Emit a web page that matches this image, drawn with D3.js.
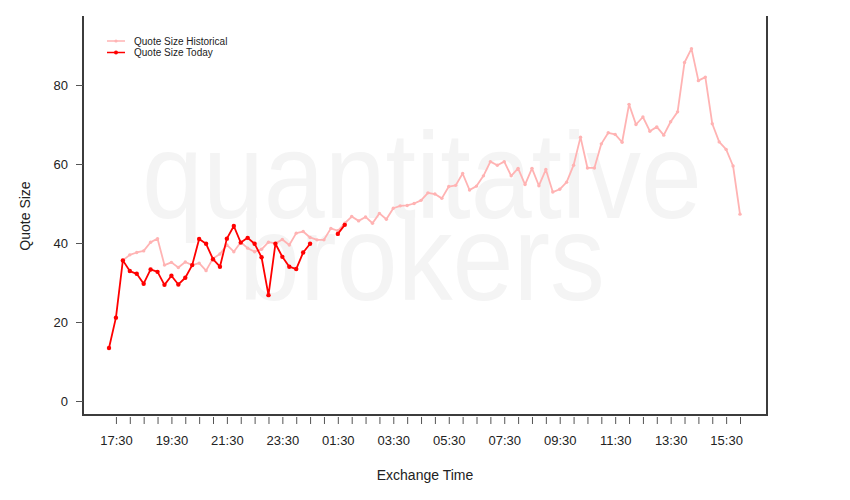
<!DOCTYPE html>
<html>
<head>
<meta charset="utf-8">
<script src="https://cdn.jsdelivr.net/npm/d3@7"></script>
<style>
  body { margin: 0; background: #fff; }
  svg { display: block; font-family: "Liberation Sans", Arial, Helvetica, sans-serif; }
</style>
</head>
<body>
<svg id="chart" width="850" height="500"></svg>
<script>
// ---- data ----
const startTime = "2013-01-01T17:15:00Z";   // first observation, 15-minute buckets
const stepMinutes = 15;

const historical = [
  null, null, 35.6, 37.0, 37.6, 38.0, 40.2, 41.1, 34.4, 35.1,
  33.8, 35.2, 34.4, 34.9, 33.0, 36.1, 37.2, 39.5, 37.8, 40.2,
  38.7, 37.8, 38.4, 40.2, 39.9, 40.9, 39.5, 42.5, 42.9, 41.4,
  40.8, 40.8, 43.7, 43.1, 45.0, 46.7, 45.6, 46.6, 45.0, 47.5,
  46.0, 48.8, 49.4, 49.5, 50.0, 50.8, 52.7, 52.4, 51.3, 54.3,
  54.6, 57.6, 53.4, 54.4, 57.0, 60.6, 59.7, 60.6, 57.0, 58.9,
  54.8, 58.9, 54.5, 58.6, 52.9, 53.6, 55.4, 59.7, 66.8, 59.0,
  59.0, 65.1, 67.9, 67.5, 65.5, 75.1, 70.0, 71.9, 68.3, 69.4,
  67.3, 70.7, 73.2, 85.7, 89.2, 81.1, 82.0, 70.2, 65.6, 63.7,
  59.5, 47.3
];

const today = [
  13.4, 21.1, 35.6, 32.9, 32.2, 29.7, 33.3, 32.7, 29.4, 31.7,
  29.5, 31.2, 34.4, 41.0, 39.8, 35.9, 34.0, 41.1, 44.3, 40.1,
  41.3, 39.8, 36.4, 26.8, 39.8, 36.5, 34.0, 33.4, 37.6, 39.8,
  null, null, null, 42.3, 44.6
];

const yTicks = [0, 20, 40, 60, 80];
const xTickStart = "2013-01-01T17:30:00Z";
const xTickEnd = "2013-01-02T16:00:00Z";
const seriesNames = ["Quote Size Historical", "Quote Size Today"];
const seriesColors = ["#ffb3b3", "#ff0000"];
const watermarkLines = ["quantitative", "brokers"];

// ---- layout ----
const svg = d3.select("#chart");
const box = { left: 83, right: 767, top: 16, bottom: 415 };

const t0 = new Date(startTime);
const times = historical.map((_, i) => d3.utcMinute.offset(t0, i * stepMinutes));

const x = d3.scaleUtc()
  .domain([times[0], times[times.length - 1]])
  .range([109, 740]);

const y = d3.scaleLinear().domain([0, 80]).range([401, 85]);

// watermark
const wm = svg.append("g").attr("fill", "#f4f4f4");
wm.append("text").attr("x", 142).attr("y", 218)
  .attr("font-size", 122).attr("textLength", 560).attr("lengthAdjust", "spacingAndGlyphs")
  .text(watermarkLines[0]);
wm.append("text").attr("x", 239).attr("y", 300)
  .attr("font-size", 122).attr("textLength", 366).attr("lengthAdjust", "spacingAndGlyphs")
  .text(watermarkLines[1]);

// box (left, bottom, right)
svg.append("path")
  .attr("d", `M${box.left},${box.top}V${box.bottom}H${box.right}V${box.top}`)
  .attr("fill", "none").attr("stroke", "#3c3c3c").attr("stroke-width", 2);

// y axis
const yAxis = svg.append("g")
  .attr("transform", `translate(${box.left},0)`)
  .call(d3.axisLeft(y).tickValues(yTicks).tickSize(7).tickPadding(8).tickFormat(d3.format("d")));
yAxis.select(".domain").remove();
yAxis.selectAll(".tick line").attr("stroke", "#555");
yAxis.selectAll(".tick text").attr("font-size", 13).attr("fill", "#222")
  .attr("font-family", "'Liberation Sans', Arial, sans-serif");

// x axis
const xTicks = d3.utcMinute.every(30).range(new Date(xTickStart), d3.utcMinute.offset(new Date(xTickEnd), 1));
const fmt = d3.utcFormat("%H:%M");
const xAxis = svg.append("g")
  .attr("transform", `translate(0,${box.bottom + 2})`)
  .call(d3.axisBottom(x).tickValues(xTicks).tickSize(7).tickPadding(12)
    .tickFormat((d, i) => (i % 4 === 0 ? fmt(d) : "")));
xAxis.select(".domain").remove();
xAxis.selectAll(".tick line").attr("stroke", "#555");
xAxis.selectAll(".tick text").attr("font-size", 13).attr("fill", "#222")
  .attr("font-family", "'Liberation Sans', Arial, sans-serif");

// axis titles
svg.append("text").attr("x", 425).attr("y", 480).attr("text-anchor", "middle")
  .attr("font-size", 14).attr("fill", "#222").text("Exchange Time");
svg.append("text").attr("transform", "translate(30,216) rotate(-90)").attr("text-anchor", "middle")
  .attr("font-size", 14).attr("fill", "#222").text("Quote Size");

// series
function drawSeries(values, color, r) {
  const pts = values.map((v, i) => ({ t: times[i], v }));
  const line = d3.line().defined(d => d.v != null).x(d => x(d.t)).y(d => y(d.v));
  svg.append("path").datum(pts).attr("d", line)
    .attr("fill", "none").attr("stroke", color).attr("stroke-width", 1.8)
    .attr("stroke-linejoin", "round");
  svg.append("g").selectAll("circle").data(pts.filter(d => d.v != null)).join("circle")
    .attr("cx", d => x(d.t)).attr("cy", d => y(d.v)).attr("r", r).attr("fill", color);
}
drawSeries(historical, seriesColors[0], 1.7);
drawSeries(today, seriesColors[1], 2.2);

// legend
const legend = svg.append("g");
seriesNames.forEach((name, i) => {
  const ly = 41 + i * 11.5;
  legend.append("line").attr("x1", 107).attr("x2", 125).attr("y1", ly).attr("y2", ly)
    .attr("stroke", seriesColors[i]).attr("stroke-width", 1.5);
  legend.append("circle").attr("cx", 116).attr("cy", ly).attr("r", i ? 2 : 1.6).attr("fill", seriesColors[i]);
  legend.append("text").attr("x", 134).attr("y", ly + 3.5).attr("font-size", 10).attr("fill", "#222").text(name);
});
</script>
</body>
</html>
